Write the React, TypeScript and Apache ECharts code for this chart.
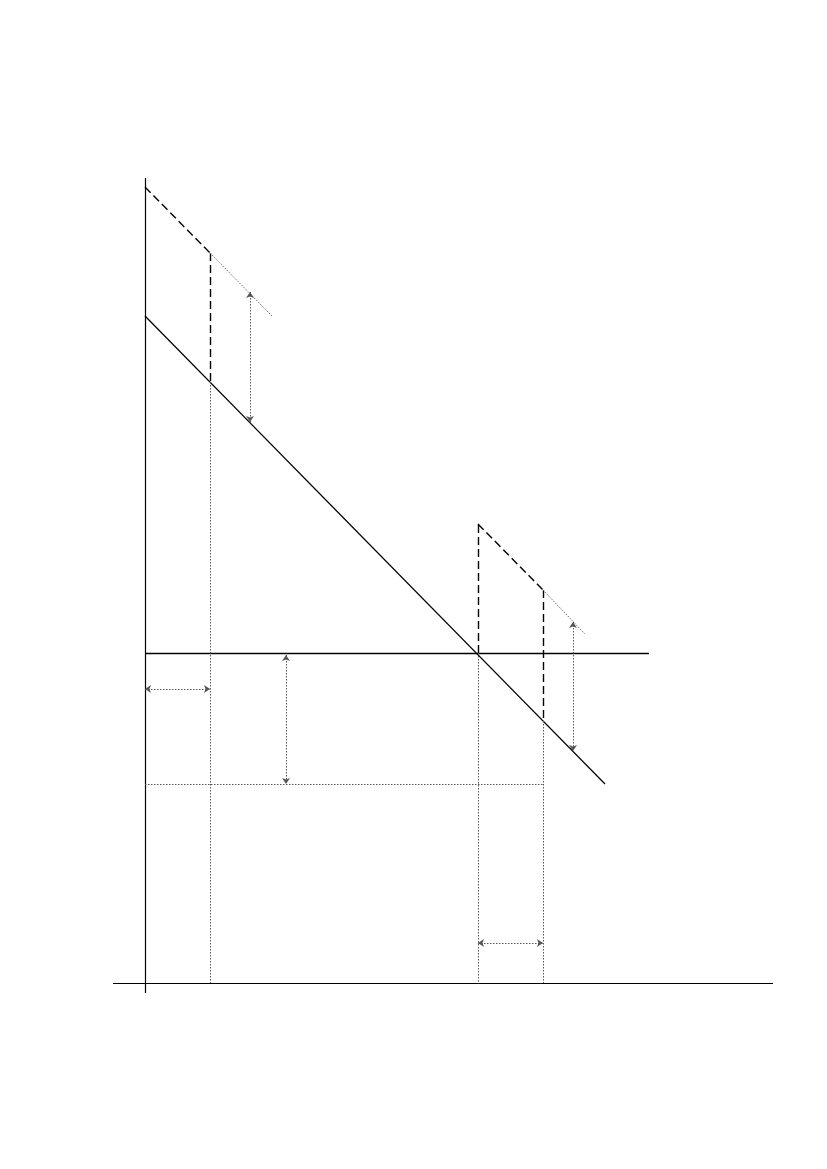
import React, { useEffect, useRef } from "react";
import * as echarts from "echarts";

// Coordinates in diagram units (origin at the axes' crossing)
type Seg = [[number, number], [number, number]];

const axisSegments: Seg[] = [
  [[0, -10], [0, 805]],
  [[-32, 0], [628, 0]],
];

const solidSegments: Seg[] = [
  [[0, 667], [460, 199]], // downward sloping line
  [[0, 330], [504, 330]], // horizontal line
];

const dashedSegments: Seg[] = [
  [[0, 796], [65, 730]],
  [[65, 730], [65, 601]],
  [[333, 330], [333, 459]],
  [[333, 459], [398, 393]],
  [[398, 393], [398, 262]],
];

const lightDottedSegments: Seg[] = [
  [[65, 730], [127, 667]],
  [[398, 393], [440, 349]],
];

const dottedSegments: Seg[] = [
  [[65, 601], [65, 0]],
  [[333, 330], [333, 0]],
  [[398, 262], [398, 0]],
  [[0, 199], [398, 199]],
];

const arrowSegments: Seg[] = [
  [[105, 691], [105, 561]],
  [[428, 361], [428, 232]],
  [[141, 328], [141, 199]],
  [[0, 294], [65, 294]],
  [[333, 40], [398, 40]],
];

const xMin = -32;
const xMax = 628;
const yMin = -10;
const yMax = 805;

export default function App() {
  const ref = useRef<HTMLDivElement>(null);
  useEffect(() => {
    if (!ref.current) return;
    const chart = echarts.init(ref.current, null, { renderer: "svg" });
    const toData = (segs: Seg[]) => segs.map((s) => ({ coords: s }));
    chart.setOption({
      animation: false,
      backgroundColor: "#ffffff",
      grid: { left: 113, right: 54, top: 178, bottom: 176, containLabel: false },
      xAxis: { type: "value", min: xMin, max: xMax, show: false },
      yAxis: { type: "value", min: yMin, max: yMax, show: false },
      series: [
        {
          type: "lines",
          coordinateSystem: "cartesian2d",
          data: toData(axisSegments),
          lineStyle: { color: "#000", width: 1.2, type: "solid", opacity: 1 },
          symbol: ["none", "none"],
          silent: true,
        },
        {
          type: "lines",
          coordinateSystem: "cartesian2d",
          data: toData(solidSegments),
          lineStyle: { color: "#000", width: 1.3, type: "solid", opacity: 1 },
          symbol: ["none", "none"],
          silent: true,
        },
        {
          type: "lines",
          coordinateSystem: "cartesian2d",
          data: toData(dashedSegments),
          lineStyle: { color: "#000", width: 1.4, type: [8, 4], opacity: 1 },
          symbol: ["none", "none"],
          silent: true,
        },
        {
          type: "lines",
          coordinateSystem: "cartesian2d",
          data: toData(lightDottedSegments),
          lineStyle: { color: "#666", width: 1, type: [1.5, 1.5], opacity: 1 },
          symbol: ["none", "none"],
          silent: true,
        },
        {
          type: "lines",
          coordinateSystem: "cartesian2d",
          data: toData(dottedSegments),
          lineStyle: { color: "#555", width: 1, type: [1.5, 1.5], opacity: 1 },
          symbol: ["none", "none"],
          silent: true,
        },
        {
          type: "lines",
          coordinateSystem: "cartesian2d",
          data: toData(arrowSegments),
          lineStyle: { color: "#555", width: 1, type: [1.5, 1.5], opacity: 1 },
          symbol: ["arrow", "arrow"],
          symbolSize: 6,
          silent: true,
        },
      ],
    });
    return () => chart.dispose();
  }, []);
  return (
    <div
      ref={ref}
      style={{ position: "absolute", left: 0, top: 0, width: 827, height: 1169 }}
    />
  );
}
